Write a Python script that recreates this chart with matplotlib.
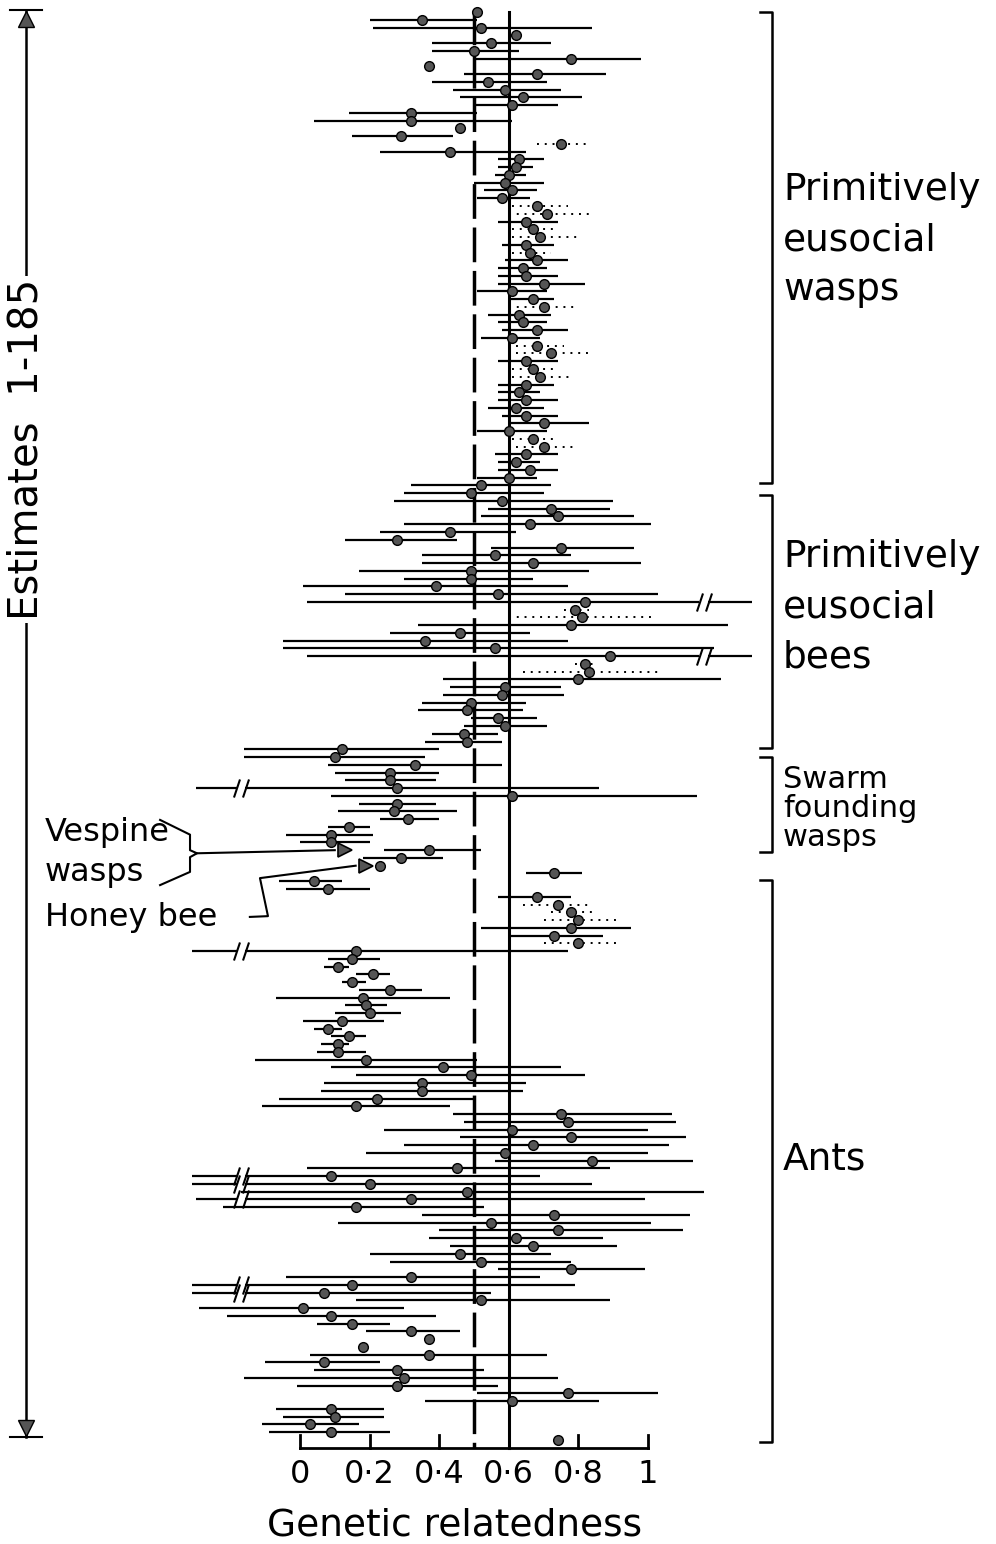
import numpy as np
import matplotlib.pyplot as plt
from matplotlib.path import Path

nan = np.nan

# estimates 1-185 from top to bottom: mean relatedness, lower / upper limit
# interval kind: s = solid line, d = dotted line, n = no interval drawn
wasp_r = [0.51, 0.35, 0.52, 0.62, 0.55, 0.50, 0.78, 0.37, 0.68, 0.54,
          0.59, 0.64, 0.61, 0.32, 0.32, 0.46, 0.29, 0.75, 0.43, 0.63,
          0.62, 0.60, 0.59, 0.61, 0.58, 0.68, 0.71, 0.65, 0.67, 0.69,
          0.65, 0.66, 0.68, 0.64, 0.65, 0.70, 0.61, 0.67, 0.70, 0.63,
          0.64, 0.68, 0.61, 0.68, 0.72, 0.65, 0.67, 0.69, 0.65, 0.63,
          0.65, 0.62, 0.65, 0.70, 0.60, 0.67, 0.70, 0.65, 0.62, 0.66, 0.60]
wasp_lo = [nan, 0.20, 0.21, nan, 0.38, 0.38, 0.50, nan, 0.47, 0.38,
           0.44, 0.46, 0.50, 0.14, 0.04, nan, 0.15, 0.68, 0.23, 0.57,
           0.57, 0.56, 0.50, 0.53, 0.51, 0.61, 0.60, 0.57, 0.61, 0.61,
           0.58, 0.61, 0.59, 0.57, 0.57, 0.57, 0.51, 0.60, 0.60, 0.54,
           0.57, 0.58, 0.52, 0.62, 0.62, 0.57, 0.61, 0.61, 0.57, 0.57,
           0.57, 0.54, 0.58, 0.60, 0.51, 0.61, 0.62, 0.56, 0.57, 0.57, 0.51]
wasp_hi = [nan, 0.51, 0.84, nan, 0.72, 0.63, 0.98, nan, 0.88, 0.71,
           0.75, 0.81, 0.74, 0.51, 0.61, nan, 0.44, 0.83, 0.65, 0.70,
           0.67, 0.65, 0.70, 0.68, 0.66, 0.77, 0.83, 0.74, 0.74, 0.80,
           0.73, 0.72, 0.77, 0.71, 0.74, 0.82, 0.71, 0.73, 0.80, 0.72,
           0.71, 0.77, 0.69, 0.76, 0.83, 0.74, 0.73, 0.78, 0.73, 0.69,
           0.74, 0.70, 0.74, 0.83, 0.71, 0.74, 0.80, 0.74, 0.69, 0.74, 0.68]
wasp_kind = "nssnsssnss" "sssssnsdss" "sssssddsdd" "sdssssssds" "sssddsddss" "sssssddssss"

bee_r = [0.52, 0.49, 0.58, 0.72, 0.74, 0.66, 0.43, 0.28, 0.75, 0.56,
         0.67, 0.49, 0.49, 0.39, 0.57, 0.82, 0.79, 0.81, 0.78, 0.46,
         0.36, 0.56, 0.89, 0.82, 0.83, 0.80, 0.59, 0.58, 0.49, 0.48,
         0.57, 0.59, 0.47, 0.48]
bee_lo = [0.32, 0.30, 0.27, 0.54, 0.52, 0.30, 0.23, 0.13, 0.55, 0.35,
          0.35, 0.17, 0.30, 0.01, 0.13, 0.02, 0.76, 0.60, 0.34, 0.26,
          -0.05, -0.05, 0.02, 0.79, 0.64, 0.41, 0.43, 0.41, 0.35, 0.34,
          0.49, 0.47, 0.38, 0.36]
bee_hi = [0.72, 0.70, 0.90, 0.89, 0.96, 1.01, 0.62, 0.45, 0.96, 0.78,
          0.98, 0.83, 0.67, 0.77, 1.03, 1.30, 0.83, 1.01, 1.23, 0.66,
          0.77, 1.19, 1.30, 0.85, 1.04, 1.21, 0.75, 0.76, 0.65, 0.64,
          0.68, 0.71, 0.57, 0.58]
bee_kind = "ssssssssss" "ssssssddss" "sssddsssss" "ssss"

swarm_r = [0.12, 0.10, 0.33, 0.26, 0.26, 0.28, 0.61, 0.28, 0.27, 0.31,
           0.14, 0.09, 0.09, 0.37, 0.29, 0.23]
swarm_lo = [-0.16, -0.16, 0.08, 0.10, 0.13, -0.30, 0.09, 0.17, 0.11, 0.23,
            0.08, -0.04, 0.00, 0.24, 0.18, nan]
swarm_hi = [0.40, 0.36, 0.58, 0.40, 0.39, 0.86, 1.14, 0.39, 0.45, 0.40,
            0.20, 0.21, 0.20, 0.52, 0.41, nan]
swarm_kind = "sssssssssssssssn"

ant_r = [0.73, 0.04, 0.08, 0.68, 0.74, 0.78, 0.80, 0.78, 0.73, 0.80,
         0.16, 0.15, 0.11, 0.21, 0.15, 0.26, 0.18, 0.19, 0.20, 0.12,
         0.08, 0.14, 0.11, 0.11, 0.19, 0.41, 0.49, 0.35, 0.35, 0.22,
         0.16, 0.75, 0.77, 0.61, 0.78, 0.67, 0.59, 0.84, 0.45, 0.09,
         0.20, 0.48, 0.32, 0.16, 0.73, 0.55, 0.74, 0.62, 0.67, 0.46,
         0.52, 0.78, 0.32, 0.15, 0.07, 0.52, 0.01, 0.09, 0.15, 0.32,
         0.37, 0.18, 0.37, 0.07, 0.28, 0.30, 0.28, 0.77, 0.61, 0.09,
         0.10, 0.03, 0.09, 0.74]
ant_lo = [0.65, -0.06, -0.04, 0.57, 0.64, 0.72, 0.70, 0.52, 0.60, 0.70,
          -0.31, 0.08, 0.07, 0.16, 0.12, 0.17, -0.07, 0.13, 0.10, 0.01,
          0.04, 0.09, 0.06, 0.05, -0.13, 0.09, 0.16, 0.07, 0.06, -0.06,
          -0.11, 0.44, 0.47, 0.24, 0.46, 0.30, 0.19, 0.56, 0.02, -0.31,
          -0.31, -0.17, -0.30, -0.22, 0.35, 0.11, 0.40, 0.37, 0.43, 0.20,
          0.26, 0.57, -0.04, -0.31, -0.31, 0.16, -0.29, -0.21, 0.05, 0.19,
          nan, nan, 0.03, -0.10, 0.04, -0.16, -0.01, 0.51, 0.36, -0.07,
          -0.05, -0.11, -0.09, nan]
ant_hi = [0.81, 0.12, 0.20, 0.78, 0.84, 0.84, 0.92, 0.95, 0.87, 0.91,
          0.77, 0.23, 0.14, 0.26, 0.19, 0.35, 0.43, 0.25, 0.29, 0.24,
          0.12, 0.19, 0.14, 0.19, 0.51, 0.75, 0.82, 0.65, 0.64, 0.50,
          0.43, 1.07, 1.08, 1.00, 1.11, 1.06, 1.00, 1.13, 0.89, 0.69,
          0.84, 1.16, 0.99, 0.53, 1.12, 1.01, 1.10, 0.87, 0.91, 0.72,
          0.78, 0.99, 0.69, 0.79, 0.55, 0.89, 0.30, 0.39, 0.26, 0.46,
          nan, nan, 0.71, 0.23, 0.53, 0.74, 0.57, 1.03, 0.86, 0.24,
          0.24, 0.17, 0.26, nan]
ant_kind = "ssssdddssd" + "s" * 50 + "nnssssssss" "sssn"

# intervals drawn with a break (estimate number, where the break sits)
break_rows = [77, 84, 101, 122, 151, 152, 154, 165, 166]
break_pos = [1.16, 1.16, -0.17, -0.17, -0.17, -0.17, -0.17, -0.17, -0.17]

# vespine wasps and honey bee (estimate number, relatedness)
vespine = (109, 0.13)
honeybee = (111, 0.19)

ref_dashed = 0.5
ref_solid = 0.6

group_labels = ['Primitively\neusocial\nwasps', 'Primitively\neusocial\nbees',
                'Swarm\nfounding\nwasps', 'Ants']
bracket_top = [1.0, 63.2, 97.0, 112.8]
bracket_bottom = [61.7, 95.8, 109.2, 185.3]
label_row = [30.4, 77.7, 103.6, 148.9]

tick_vals = [0, 0.2, 0.4, 0.6, 0.8, 1]
tick_text = ['0', '0·2', '0·4', '0·6', '0·8', '1']

r = np.array(wasp_r + bee_r + swarm_r + ant_r)
lo = np.array(wasp_lo + bee_lo + swarm_lo + ant_lo)
hi = np.array(wasp_hi + bee_hi + swarm_hi + ant_hi)
kind = wasp_kind + bee_kind + swarm_kind + ant_kind
rows = np.arange(1, len(r) + 1)
breaks = dict(zip(break_rows, break_pos))

break_mark = Path([(-2.5, -3), (-0.5, 3), (0.5, -3), (2.5, 3)],
                  [Path.MOVETO, Path.LINETO, Path.MOVETO, Path.LINETO])

fig = plt.figure(figsize=(9.96, 15.44), dpi=100)
ax = fig.add_axes([0, 0, 1, 1])
ax.set_xlim(-0.862, 2.0)
ax.set_ylim(198.4, -0.546)
ax.axis('off')

# reference lines
ax.plot([ref_dashed, ref_dashed], [0.74, 186.0], color='black', lw=2.5,
        ls=(0, (10, 2.5)))
ax.plot([ref_solid, ref_solid], [1.0, 186.0], color='black', lw=2.2)

for y, a, b, k in zip(rows, lo, hi, kind):
    if k == 'n':
        continue
    style = dict(color='black', lw=1.6, solid_capstyle='butt')
    if k == 'd':
        style = dict(color='black', lw=1.4, ls=(0, (1, 3)))
    if y in breaks:
        bx = breaks[y]
        ax.plot([a, bx - 0.012], [y, y], **style)
        ax.plot([bx + 0.012, b], [y, y], **style)
        ax.plot(bx, y, marker=break_mark, ms=13, color='black', mew=1.5)
    else:
        ax.plot([a, b], [y, y], **style)

ax.plot(r, rows, 'o', ms=7, mfc='#555555', mec='black', mew=1.0, zorder=3)
for y, x in [vespine, honeybee]:
    ax.plot(x, y, '>', ms=10, mfc='#555555', mec='black', mew=1.2, zorder=3)

# x axis at the bottom
ax.plot([0, 1], [186.0, 186.0], color='black', lw=2)
for t in [0, 0.2, 0.4, 0.8, 1]:
    ax.plot([t, t], [186.0, 184.4], color='black', lw=2)
for t, s in zip(tick_vals, tick_text):
    ax.text(t, 189.4, s, ha='center', va='center', fontsize=23)
ax.text(0.445, 196.0, 'Genetic relatedness', ha='center', va='center', fontsize=27)

# group brackets on the right
for top, bot, lab, ly in zip(bracket_top, bracket_bottom, group_labels, label_row):
    ax.plot([1.322, 1.356, 1.356, 1.322], [top, top, bot, bot], color='black', lw=1.8)
    if lab.startswith('Swarm'):
        ax.text(1.388, ly, lab, ha='left', va='center', fontsize=22, linespacing=1.0)
    else:
        ax.text(1.388, ly, lab, ha='left', va='center', fontsize=27, linespacing=1.5)

# estimates arrow on the left
ax.plot([-0.787, -0.787], [0.74, 184.6], color='black', lw=1.8)
ax.plot([-0.833, -0.741], [0.74, 0.74], color='black', lw=1.5)
ax.plot([-0.833, -0.741], [184.6, 184.6], color='black', lw=1.5)
ax.plot(-0.787, 1.9, '^', ms=11, color='#555555', mec='black')
ax.plot(-0.787, 183.4, 'v', ms=11, color='#555555', mec='black')
ax.text(-0.787, 57.4, 'Estimates  1-185', rotation=90, ha='center', va='center',
        fontsize=29, bbox=dict(fc='white', ec='none', pad=2))

# vespine wasps / honey bee notes
ax.text(-0.733, 106.7, 'Vespine', ha='left', va='center', fontsize=23)
ax.text(-0.733, 111.9, 'wasps', ha='left', va='center', fontsize=23)
ax.text(-0.733, 117.7, 'Honey bee', ha='left', va='center', fontsize=23)
ax.plot([-0.402, -0.316, -0.316, -0.296, -0.316, -0.316, -0.402],
        [105.1, 107.0, 109.0, 109.4, 109.9, 111.8, 113.5], color='black', lw=1.5)
ax.plot([-0.296, vespine[1] - 0.03], [109.4, vespine[0]], color='black', lw=1.5)
ax.plot([-0.144, -0.092, -0.115, honeybee[1] - 0.03],
        [117.6, 117.5, 112.6, honeybee[0]], color='black', lw=1.5)

fig.savefig('out.png', dpi=100)
